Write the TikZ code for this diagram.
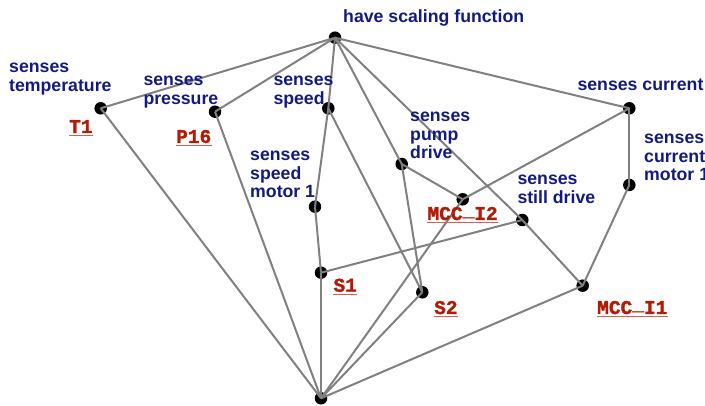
\documentclass[tikz,border=0pt]{standalone}
\usepackage{fontspec}
\setmainfont{Liberation Sans}
\newfontfamily\codefont[BoldFeatures={FakeBold=1.6}]{Liberation Mono}
\definecolor{labelblue}{RGB}{18,26,128}
\definecolor{tagred}{RGB}{178,28,6}
\definecolor{tagline}{RGB}{212,96,84}
\definecolor{edgegray}{RGB}{128,128,128}
% stacked lines, baseline on the first line
\newcommand\txtlines[1]{\vtop{\halign{##\hfil\cr#1\crcr}}}
\tikzset{
  dot/.style={circle,fill=black,minimum size=12.5pt,inner sep=0pt},
  conn/.style={draw=edgegray,line width=2pt},
  bluelab/.style={anchor=base west,inner sep=0pt,text=labelblue,
    font=\fontsize{17.7}{18.5}\selectfont\bfseries},
  redlab/.style={anchor=base west,inner sep=0pt,text=tagred,
    font=\fontsize{19.5}{20}\selectfont\codefont\bfseries},
}
\newcommand\tagunder[1]{\draw[tagline,line width=1.1pt]
  ([yshift=-2.6pt]#1.base west) -- ([yshift=-2.6pt]#1.base east);}
\begin{document}
\begin{tikzpicture}[x=1pt,y=-1pt]
\useasboundingbox (0,0) rectangle (705,406);

% concept points
\node[dot] (top)   at (335,37.7) {};
\node[dot] (tmp)   at (100.7,108.3) {};
\node[dot] (prs)   at (215,111.7) {};
\node[dot] (spd)   at (328.3,108.3) {};
\node[dot] (cur)   at (629.3,108.3) {};
\node[dot] (spm)   at (315,206.7) {};
\node[dot] (pmp)   at (401.7,164) {};
\node[dot] (mi2)   at (462.7,199.3) {};
\node[dot] (stl)   at (522.3,220) {};
\node[dot] (cm1)   at (629.3,185) {};
\node[dot] (s1)    at (321,272.7) {};
\node[dot] (s2)    at (422.3,292.3) {};
\node[dot] (mi1)   at (582.7,285.7) {};
\node[dot] (bot)   at (321,398.3) {};

% connectors, drawn over the points
\foreach \a/\b in {top/tmp,top/prs,top/spd,spd/spm,top/pmp,top/stl,top/cur,
                   tmp/bot,prs/bot,spm/s1,s1/bot,s1/stl,spd/s2,pmp/s2,pmp/mi2,
                   cur/mi2,mi2/bot,s2/bot,stl/mi1,cur/cm1,cm1/mi1,mi1/bot}
  \draw[conn] (\a.center) -- (\b.center);

% attribute labels
\node[bluelab] (ltop) at (343,23) {have scaling function};
\node[bluelab] (ltmp) at (9,72.7) {\txtlines{senses\cr temperature}};
\node[bluelab] (lprs) at (143.3,86) {\txtlines{senses\cr pressure}};
\node[bluelab] (lspd) at (273.3,86) {\txtlines{senses\cr speed}};
\node[bluelab] (lspm) at (250,160.7) {\txtlines{senses\cr speed\cr motor 1}};
\node[bluelab] (lpmp) at (410,121.7) {\txtlines{senses\cr pump\cr drive}};
\node[bluelab] (lcur) at (577.3,90.7) {senses current};
\node[bluelab] (lcm1) at (644,143.8) {\txtlines{senses\cr current\cr motor 1}};
\node[bluelab] (lstl) at (517.3,185) {\txtlines{senses\cr still drive}};

% object tags
\node[redlab] (tT1)  at (69,133) {T1};
\node[redlab] (tP16) at (176,143) {P16};
\node[redlab] (tS1)  at (333.3,291.7) {S1};
\node[redlab] (tS2)  at (434,314) {S2};
\node[redlab] (tI2)  at (427.3,220) {MCC\raisebox{0.2em}{\_}I2};
\node[redlab] (tI1)  at (597,314) {MCC\raisebox{0.2em}{\_}I1};
\tagunder{tT1}
\tagunder{tP16}
\tagunder{tS1}
\tagunder{tS2}
\tagunder{tI2}
\tagunder{tI1}
\end{tikzpicture}
\end{document}
